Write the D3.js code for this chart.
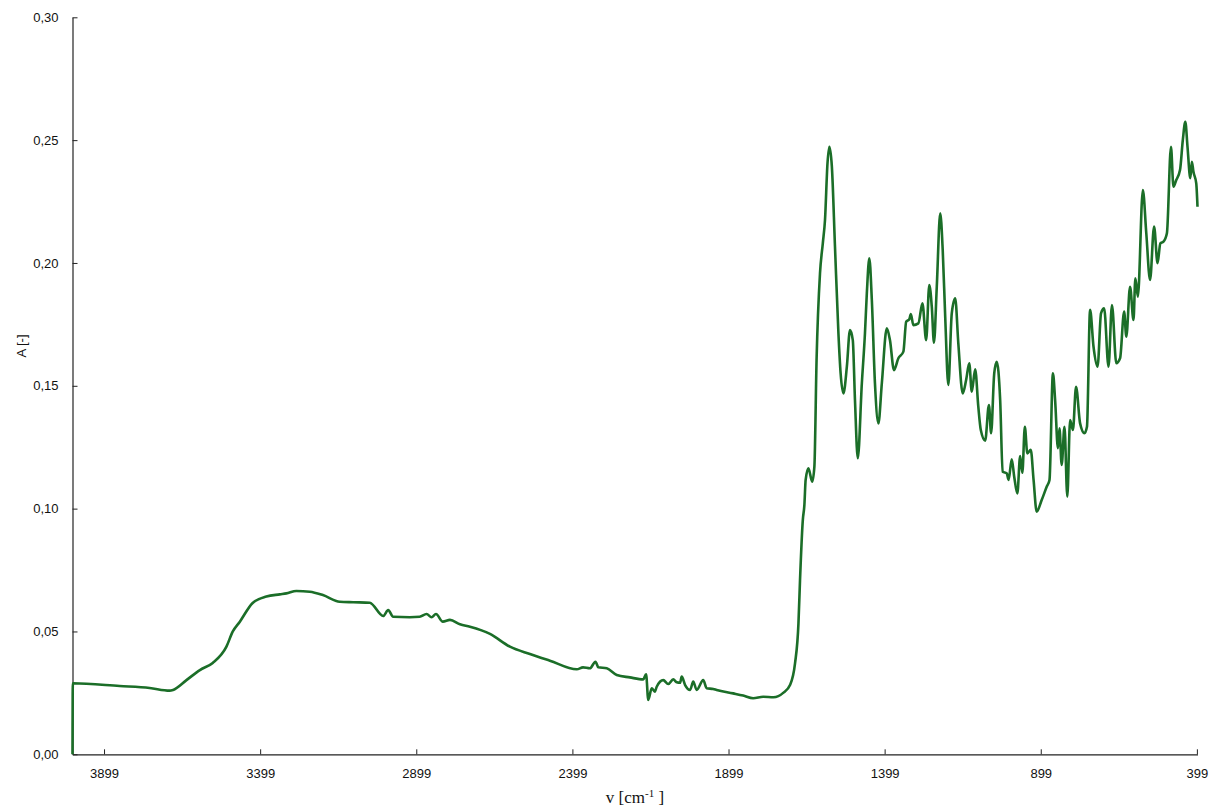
<!DOCTYPE html>
<html>
<head>
<meta charset="utf-8">
<script src="https://cdn.jsdelivr.net/npm/d3@7"></script>
<style>
  body { margin: 0; background: #fff; }
  svg { display: block; }
</style>
</head>
<body>
<div id="wrapper"></div>
<script>
/*global d3*/

// wavenumber [cm-1] of each point
const wavenumber = [
  4000, 3999, 3849, 3753, 3689, 3678, 3635, 3592, 3551, 3507, 3487, 3464, 3423, 3379,
  3336, 3315, 3283, 3240, 3198, 3144, 3101, 3048, 3005, 2989, 2973, 2920, 2888, 2866,
  2850, 2836, 2814, 2791, 2759, 2727, 2663, 2599, 2535, 2471, 2385, 2365, 2343, 2325,
  2316, 2289, 2257, 2215, 2172, 2163, 2156, 2145, 2135, 2129, 2108, 2092, 2076, 2065, 2054, 2049,
  2038, 2022, 2012, 2001, 1980, 1969, 1948, 1937, 1884, 1852, 1820, 1788, 1755, 1723, 1702, 1686,
  1675, 1670, 1661, 1656, 1652, 1643, 1631, 1624, 1617, 1606, 1597, 1590, 1582, 1576,
  1568, 1558, 1547, 1540, 1531, 1520, 1510, 1501, 1494, 1485, 1472, 1462, 1456, 1448,
  1440, 1430, 1419, 1408, 1392, 1382, 1369, 1355, 1339, 1330, 1320, 1315, 1307, 1291,
  1278, 1266, 1256, 1248, 1241, 1232, 1221, 1213, 1205, 1195, 1184, 1173, 1163, 1149,
  1138, 1128, 1120, 1109, 1099, 1091, 1077, 1065, 1058, 1048, 1040, 1029, 1021, 1008,
  1002, 992, 984, 974, 965, 958, 950, 942, 931, 922, 912, 896, 880, 871, 860, 853,
  844, 839, 832, 823, 814, 805, 796, 786, 773, 759, 751, 741, 730, 717, 706, 696,
  682, 671, 657, 645, 632, 625, 613, 602, 596, 588, 572, 561, 549, 536, 525, 516,
  506, 495, 482, 474, 465, 453, 444, 436, 429, 420, 415, 410, 401, 397
]

// absorbance [-] at each wavenumber above
const absorbance = [
  0.0000, 0.0289, 0.0278, 0.0270, 0.0259, 0.0262, 0.0302, 0.0343, 0.0372, 0.0438, 0.0499, 0.0540, 0.0616, 0.0642,
  0.0651, 0.0655, 0.0665, 0.0662, 0.0648, 0.0621, 0.0619, 0.0617, 0.0563, 0.0587, 0.0560, 0.0558, 0.0560, 0.0571,
  0.0558, 0.0571, 0.0540, 0.0547, 0.0529, 0.0519, 0.0490, 0.0438, 0.0408, 0.0381, 0.0346, 0.0354, 0.0350, 0.0377,
  0.0354, 0.0350, 0.0323, 0.0313, 0.0305, 0.0326, 0.0221, 0.0269, 0.0255, 0.0275, 0.0302, 0.0286, 0.0305, 0.0293, 0.0291, 0.0316,
  0.0282, 0.0262, 0.0296, 0.0262, 0.0302, 0.0269, 0.0266, 0.0262, 0.0248, 0.0239, 0.0228, 0.0234, 0.0232, 0.0251, 0.0282, 0.0370,
  0.0533, 0.0709, 0.0954, 0.1015, 0.1117, 0.1164, 0.1110, 0.1171, 0.1605, 0.1958, 0.2080, 0.2175, 0.2406, 0.2473,
  0.2392, 0.2066, 0.1714, 0.1551, 0.1469, 0.1578, 0.1727, 0.1686, 0.1442, 0.1205, 0.1510, 0.1714, 0.1877, 0.2019,
  0.1849, 0.1510, 0.1347, 0.1510, 0.1734, 0.1686, 0.1564, 0.1612, 0.1639, 0.1761, 0.1771, 0.1792, 0.1747, 0.1754,
  0.1836, 0.1686, 0.1910, 0.1822, 0.1675, 0.1903, 0.2202, 0.2053, 0.1781, 0.1503, 0.1795, 0.1856, 0.1673, 0.1469,
  0.1524, 0.1592, 0.1476, 0.1567, 0.1415, 0.1320, 0.1277, 0.1422, 0.1307, 0.1551, 0.1598, 0.1442, 0.1150, 0.1144,
  0.1117, 0.1201, 0.1130, 0.1062, 0.1214, 0.1146, 0.1333, 0.1225, 0.1239, 0.1117, 0.0988, 0.1035, 0.1089, 0.1117, 0.1551, 0.1442,
  0.1246, 0.1327, 0.1178, 0.1333, 0.1049, 0.1361, 0.1320, 0.1496, 0.1347, 0.1307, 0.1333, 0.1809, 0.1659, 0.1578, 0.1795, 0.1815,
  0.1578, 0.1829, 0.1592, 0.1612, 0.1802, 0.1700, 0.1903, 0.1768, 0.1938, 0.1863, 0.2297, 0.2121, 0.1931, 0.2148, 0.1999, 0.2080,
  0.2087, 0.2121, 0.2473, 0.2310, 0.2338, 0.2378, 0.2501, 0.2575, 0.2473, 0.2345, 0.2412, 0.2371, 0.2324, 0.2229
]

const xTicks = [3899, 3399, 2899, 2399, 1899, 1399, 899, 399]
const yTicks = [0, 0.05, 0.10, 0.15, 0.20, 0.25, 0.30]

const data = wavenumber.map((w, i) => ({ w, a: absorbance[i] }))

const dims = {
  width: 1210,
  height: 807,
  margin: { top: 17.3, right: 12.5, bottom: 52.7, left: 72.5 },
}
dims.boundedWidth = dims.width - dims.margin.left - dims.margin.right
dims.boundedHeight = dims.height - dims.margin.top - dims.margin.bottom

const fontSans = "Helvetica, Arial, 'Liberation Sans', sans-serif"
const locale = d3.formatLocale({ decimal: ",", thousands: ".", grouping: [3], currency: ["", ""] })

const svg = d3.select("#wrapper")
  .append("svg")
  .attr("width", dims.width)
  .attr("height", dims.height)

const bounds = svg.append("g")
  .attr("transform", `translate(${dims.margin.left},${dims.margin.top})`)

// scales
const xScale = d3.scaleLinear()
  .domain([4000, 397])
  .range([0, dims.boundedWidth])

const yScale = d3.scaleLinear()
  .domain([0, 0.30])
  .range([dims.boundedHeight, 0])

// axes
const xAxis = bounds.append("g")
  .attr("transform", `translate(0,${dims.boundedHeight})`)
  .call(d3.axisBottom(xScale)
    .tickValues(xTicks)
    .tickFormat(d3.format("d"))
    .tickSizeInner(-5)
    .tickSizeOuter(0)
    .tickPadding(14))

const yAxis = bounds.append("g")
  .call(d3.axisLeft(yScale)
    .tickValues(yTicks)
    .tickFormat(locale.format(".2f"))
    .tickSizeInner(-5)
    .tickSizeOuter(0)
    .tickPadding(14))

for (const ax of [xAxis, yAxis]) {
  ax.select(".domain").attr("stroke", "#222").attr("stroke-width", 1.2)
  ax.selectAll(".tick line").attr("stroke", "#222")
  ax.selectAll(".tick text")
    .attr("fill", "#111")
    .style("font-family", fontSans)
    .style("font-size", "13px")
}

// spectrum line
const lineGen = d3.line()
  .x(d => xScale(d.w))
  .y(d => yScale(d.a))
  .curve(d3.curveMonotoneX)

bounds.append("path")
  .datum(data)
  .attr("d", lineGen)
  .attr("fill", "none")
  .attr("stroke", "#1b6e28")
  .attr("stroke-width", 2.6)
  .attr("stroke-linejoin", "round")

// axis titles
const xTitle = svg.append("text")
  .attr("x", 635)
  .attr("y", 803)
  .attr("text-anchor", "middle")
  .attr("fill", "#111")
  .style("font-family", "'Liberation Serif', 'Times New Roman', serif")
  .style("font-size", "17px")

xTitle.append("tspan").text("v [cm")
xTitle.append("tspan")
  .attr("dy", -6)
  .style("font-size", "11px")
  .text("-1")
xTitle.append("tspan")
  .attr("dy", 6)
  .text(" ]")

svg.append("text")
  .attr("transform", "translate(26,346) rotate(-90)")
  .attr("text-anchor", "middle")
  .attr("fill", "#111")
  .style("font-family", fontSans)
  .style("font-size", "13px")
  .text("A [-]")
</script>
</body>
</html>
